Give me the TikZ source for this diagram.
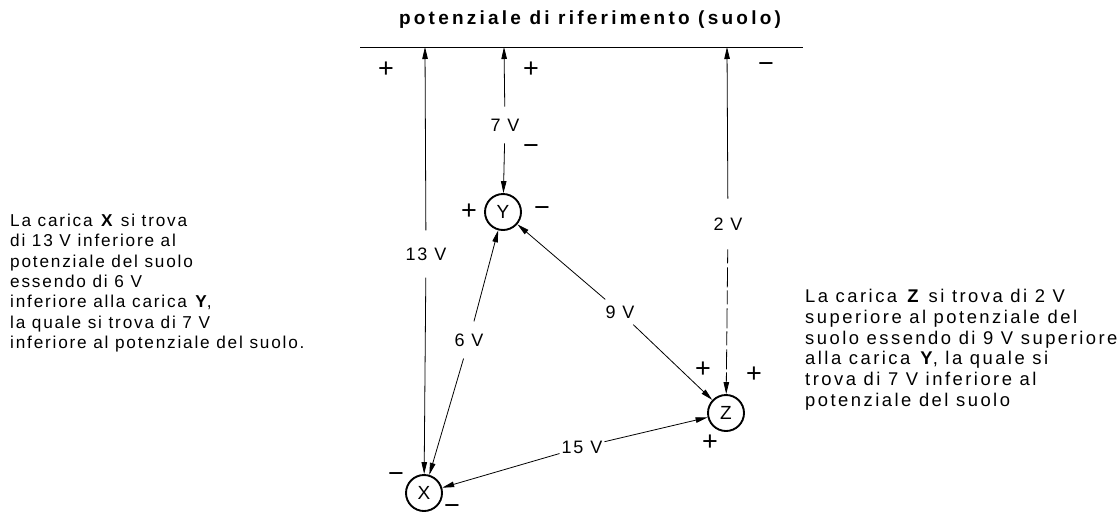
\documentclass[tikz,border=0pt]{standalone}
\usepackage{fontspec}
\setmainfont{Liberation Sans}
\newfontfamily\bodyfam[LetterSpace=10]{Liberation Sans}
\newfontfamily\leftfam[LetterSpace=10.5]{Liberation Sans}
\newfontfamily\rightfam[LetterSpace=13.5]{Liberation Sans}
\newfontfamily\titlefam[LetterSpace=17]{Liberation Sans}
\usetikzlibrary{arrows.meta}
\begin{document}
\begin{tikzpicture}[x=1pt,y=-1pt,
  >={Triangle[length=12pt,width=5.5pt]},
  wire/.style={line width=0.8pt},
  charge/.style={circle,draw,line width=1.9pt,minimum size=36pt,inner sep=0pt,
    font=\bodyfam\fontsize{19}{19}\selectfont},
  lab/.style={inner xsep=2pt,font=\bodyfam\fontsize{18}{18}\selectfont},
  sgn/.style={inner sep=0pt,font=\fontsize{27}{27}\selectfont},
  desc/.style={align=left,anchor=north west,inner sep=0pt},
]
\useasboundingbox (0,0) rectangle (1120,520);

% title and ground line
\node[font=\titlefam\bfseries\fontsize{19}{22}\selectfont] (title) at (590,20) {potenziale di riferimento (suolo)};
\coordinate (gl) at (360,47);
\coordinate (gr) at (803,47);
\draw[line width=0.9pt] (gl) -- (gr);
\coordinate (g1) at (425,47);
\coordinate (g2) at (504,47);
\coordinate (g3) at (727,47);

% charges
\node[charge] (Y) at (503,212) {Y};
\node[charge] (Z) at (726,413) {Z};
\node[charge] (X) at (424,493) {X};

% voltage labels
\node[lab,inner ysep=17pt] (l13) at (426,254) {13 V};
\node[lab,inner ysep=12pt] (l7) at (505,125) {7 V};
\node[lab,inner ysep=19pt] (l2) at (728,224) {2 V};
\node[lab,inner ysep=6pt] (l9) at (620,312) {9 V};
\node[lab,inner ysep=12pt] (l6) at (469,340) {6 V};
\node[lab,inner ysep=4pt] (l15) at (582,447) {15 V};

% connectors
\draw[wire,<-] (g1) -- (l13);
\draw[wire,->] (l13) -- (X);
\draw[wire,<-] (g2) -- (l7);
\draw[wire,->] (l7) -- (Y);
\draw[wire,<-] (g3) -- (l2);
\draw[wire,->,dash pattern=on 14pt off 4pt on 20pt off 3pt] (l2) -- (Z);
\draw[wire,<-] (Y) -- (l9);
\draw[wire,->] (l9) -- (Z);
\draw[wire,<-] (Y) -- (l6);
\draw[wire,->] (l6) -- (X);
\draw[wire,<-] (Z) -- (l15);
\draw[wire,->] (l15) -- (X);

% signs
\node[sgn] (s1) at (386,70) {+};
\node[sgn] (s2) at (531,70) {+};
\node[sgn] (s3) at (766,68) {−};
\node[sgn] (s4) at (531,150) {−};
\node[sgn] (s5) at (469,212) {+};
\node[sgn] (s6) at (542,212) {−};
\node[sgn] (s7) at (703,370) {+};
\node[sgn] (s8) at (754,375) {+};
\node[sgn] (s9) at (710,443) {+};
\node[sgn] (s10) at (396,478) {−};
\node[sgn] (s11) at (452,510) {−};

% descriptions
\node[desc,font=\leftfam\fontsize{17.2}{20.3}\selectfont] (left) at (10,214) {La carica \textbf{X} si trova\\
di 13 V inferiore al\\
potenziale del suolo\\
essendo di 6 V\\
inferiore alla carica \textbf{Y},\\
la quale si trova di 7 V\\
inferiore al potenziale del suolo.};
\node[desc,font=\rightfam\fontsize{18.4}{20.8}\selectfont] (right) at (805,289) {La carica \textbf{Z} si trova di 2 V\\
superiore al potenziale del\\
suolo essendo di 9 V superiore\\
alla carica \textbf{Y}, la quale si\\
trova di 7 V inferiore al\\
potenziale del suolo};
\end{tikzpicture}
\end{document}
